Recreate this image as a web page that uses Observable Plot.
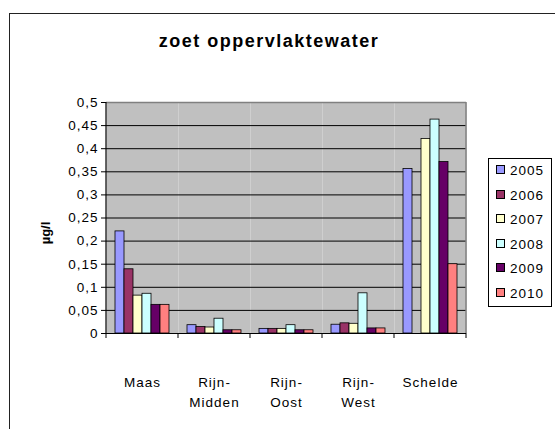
<!DOCTYPE html>
<html><head><meta charset="utf-8">
<script src="https://cdn.jsdelivr.net/npm/d3@7"></script>
<script src="https://cdn.jsdelivr.net/npm/@observablehq/plot@0.6"></script>
<style>
body{margin:0;width:555px;height:429px;overflow:hidden;position:relative;background:#fff;font-family:"Liberation Sans",Arial,sans-serif;color:#000;}
#border{position:absolute;left:9px;top:13px;width:600px;height:500px;border:1.5px solid #222;}
#chart{position:absolute;left:0;top:0;}
#title{position:absolute;left:0;width:538px;top:31px;text-align:center;font-weight:bold;font-size:18px;letter-spacing:1.5px;white-space:nowrap;}
#ylabel{position:absolute;left:45px;top:233px;transform:translate(-50%,-50%) rotate(-90deg);font-weight:bold;font-size:13px;white-space:nowrap;}
#legend{position:absolute;left:488px;top:158px;width:64px;height:149px;box-sizing:border-box;border:1px solid #000;background:#fff;}
.item{position:absolute;left:7px;height:16px;font-size:13.5px;letter-spacing:1px;line-height:16px;white-space:nowrap;}
.sw{display:inline-block;width:7px;height:7px;border:1px solid #000;margin-right:5px;vertical-align:1px;}
</style></head>
<body>
<div id="border"></div>
<div id="chart"></div>
<div id="title">zoet oppervlaktewater</div>
<div id="ylabel">µg/l</div>
<div id="legend"></div>
<script>
const regions = ["Maas", "Rijn-Midden", "Rijn-Oost", "Rijn-West", "Schelde"];
const regionLabels = ["Maas", "Rijn-\nMidden", "Rijn-\nOost", "Rijn-\nWest", "Schelde"];
const years = ["2005", "2006", "2007", "2008", "2009", "2010"];
const colors = ["#9999FF", "#993366", "#FFFFCC", "#CCFFFF", "#660066", "#FF8080"];
const v2005 = [0.221, 0.018, 0.010, 0.019, 0.356];
const v2006 = [0.139, 0.014, 0.010, 0.022, null];
const v2007 = [0.082, 0.013, 0.010, 0.021, 0.421];
const v2008 = [0.086, 0.032, 0.018, 0.087, 0.463];
const v2009 = [0.062, 0.007, 0.007, 0.011, 0.371];
const v2010 = [0.062, 0.007, 0.007, 0.011, 0.150];
const yTicks = [0, 0.05, 0.1, 0.15, 0.2, 0.25, 0.3, 0.35, 0.4, 0.45, 0.5];

const series = [v2005, v2006, v2007, v2008, v2009, v2010];
const data = years.flatMap((yr, i) => regions.map((r, j) => ({region: r, year: yr, value: series[i][j]})))
  .filter(d => d.value != null);

const chart = Plot.plot({
  width: 555, height: 429,
  marginLeft: 105, marginRight: 88, marginTop: 102, marginBottom: 96,
  style: {fontFamily: '"Liberation Sans", Arial, sans-serif', fontSize: "13.5px", letterSpacing: "1px", background: "transparent", color: "#000"},
  fx: {domain: regions, padding: 0, label: null},
  x: {domain: years, paddingInner: 0, paddingOuter: 0.75, axis: null},
  y: {domain: [0, 0.5], label: null},
  color: {domain: years, range: colors},
  marks: [
    Plot.frame({fill: "#c0c0c0", stroke: "none"}),
    Plot.ruleY(yTicks.slice(1, -1), {stroke: "#000", strokeWidth: 1}),
    Plot.ruleY([0.5], {stroke: "#808080", strokeWidth: 1.5}),
    Plot.barY(data, {fx: "region", x: "year", y: "value", fill: "year", stroke: "#000", strokeWidth: 0.8, inset: 0}),
    Plot.ruleY([0], {stroke: "#000", strokeWidth: 1.2}),
    Plot.axisY({ticks: yTicks, tickSize: 5, tickPadding: 3, tickFormat: d => String(d).replace(".", ","), label: null}),
    Plot.axisFx({anchor: "bottom", tickSize: 0, tickPadding: 39, tickFormat: r => regionLabels[regions.indexOf(r)], lineHeight: 1.5, label: null})
  ]
});
document.getElementById("chart").appendChild(chart);

// axis lines and category boundary ticks, positioned by the plot's own scales
const fx = chart.scale("fx");
const ys = chart.scale("y");
const y0 = ys.apply(0), y1 = ys.apply(0.5);
const starts = regions.map(r => fx.apply(r));
const bounds = [...starts, starts[starts.length - 1] + fx.bandwidth];
const g = d3.select(chart).append("g");
g.append("line").attr("x1", bounds[bounds.length - 1]).attr("x2", bounds[bounds.length - 1])
  .attr("y1", y1).attr("y2", y0).attr("stroke", "#808080").attr("stroke-width", 1.5);
g.append("line").attr("x1", bounds[0]).attr("x2", bounds[0])
  .attr("y1", y1).attr("y2", y0).attr("stroke", "#000").attr("stroke-width", 1.2);
g.selectAll("line.bt").data(bounds).join("line").attr("class", "bt")
  .attr("x1", d => d).attr("x2", d => d).attr("y1", y0).attr("y2", y0 + 5)
  .attr("stroke", "#000").attr("stroke-width", 1);

// legend
const leg = document.getElementById("legend");
years.forEach((yr, i) => {
  const it = document.createElement("div");
  it.className = "item";
  it.style.top = (4 + i * 24.6) + "px";
  it.innerHTML = `<span class="sw" style="background:${colors[i]}"></span>${yr}`;
  leg.appendChild(it);
});
</script>
</body></html>
